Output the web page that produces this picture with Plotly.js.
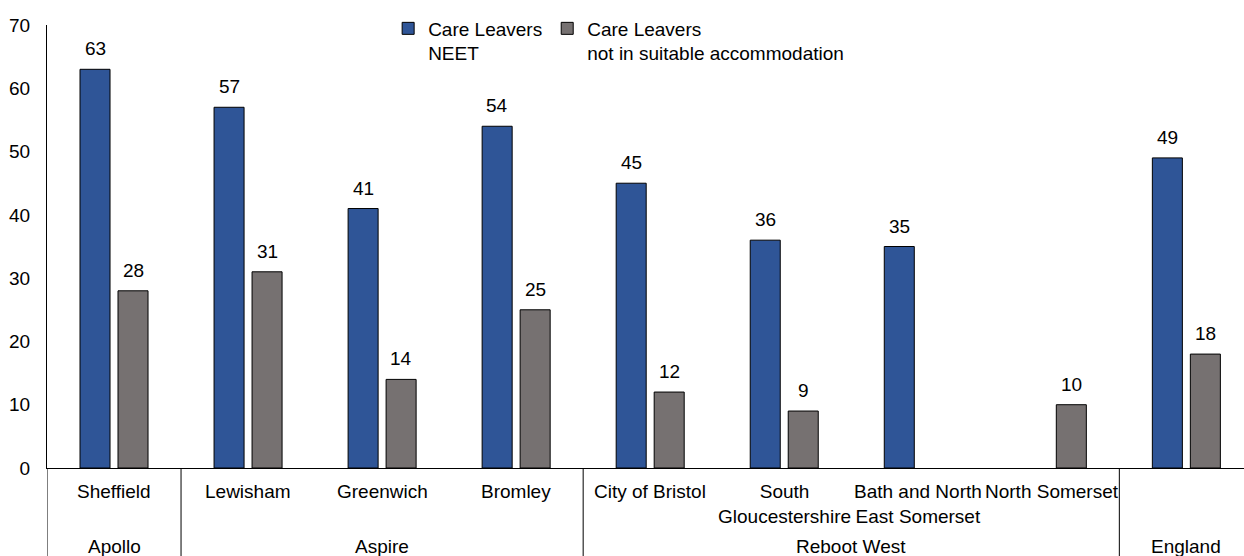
<!DOCTYPE html>
<html>
<head>
<meta charset="utf-8">
<script src="https://cdn.plot.ly/plotly-3.0.1.min.js"></script>
<style>
  html, body { margin: 0; padding: 0; background: #fff; }
  #chart { width: 1244px; height: 556px; }
</style>
</head>
<body>
<div id="chart"></div>
<script>
// Local authorities, grouped by programme
const areas = ["Sheffield", "Lewisham", "Greenwich", "Bromley", "City of Bristol",
  "South<br>Gloucestershire", "Bath and North<br>East Somerset", "North Somerset", "England"];
const groups = ["Apollo", "Aspire", "Aspire", "Aspire", "Reboot West",
  "Reboot West", "Reboot West", "Reboot West", "England"];

// Percentages of care leavers
const neet = [63, 57, 41, 54, 45, 36, 35, null, 49];
const notSuitable = [28, 31, 14, 25, 12, 9, null, 10, 18];

const seriesNames = ["Care Leavers<br>NEET", "Care Leavers<br>not in suitable accommodation"];
const yTicks = [0, 10, 20, 30, 40, 50, 60, 70];

const BLUE = "#2F5597";
const GREY = "#767171";
const FONT = "Liberation Sans, Arial, sans-serif";
const FS = 19;

const idx = areas.map((_, i) => i);

const traces = [
  { type: "bar", name: seriesNames[0], x: idx, y: neet,
    marker: { color: BLUE, line: { color: "#000", width: 1 } }, hoverinfo: "y" },
  { type: "bar", name: seriesNames[1], x: idx, y: notSuitable,
    marker: { color: GREY, line: { color: "#000", width: 1 } }, hoverinfo: "y" }
];

const annotations = [];
const shapes = [];

// Value labels above each bar
[[neet, -19], [notSuitable, 19]].forEach(([vals, dx]) => {
  vals.forEach((v, i) => {
    if (v === null) return;
    annotations.push({ x: i, y: v, xref: "x", yref: "y", text: String(v),
      showarrow: false, xshift: dx, yanchor: "bottom", yshift: 8,
      font: { family: FONT, size: FS, color: "#000" } });
  });
});

// Area labels under the axis (a single-area programme only shows its programme name)
areas.forEach((a, i) => {
  if (a === groups[i]) return;
  annotations.push({ x: i, y: -0.025, xref: "x", yref: "paper", text: a,
    showarrow: false, yanchor: "top", align: "center",
    font: { family: FONT, size: FS, color: "#000" } });
});

// Programme labels and dividers between programmes
const spans = [];
groups.forEach((g, i) => {
  if (!spans.length || spans[spans.length - 1].name !== g) spans.push({ name: g, start: i, end: i });
  else spans[spans.length - 1].end = i;
});
spans.forEach((s) => {
  annotations.push({ x: (s.start + s.end) / 2, y: -0.178, xref: "x", yref: "paper",
    text: s.name, showarrow: false, yanchor: "middle",
    font: { family: FONT, size: FS, color: "#000" } });
  shapes.push({ type: "line", xref: "x", yref: "paper", x0: s.start - 0.5, x1: s.start - 0.5,
    y0: 0, y1: -0.2, line: { color: "#000", width: 1 } });
});

const layout = {
  width: 1244, height: 556,
  margin: { l: 47, r: 0, t: 25, b: 88 },
  paper_bgcolor: "#fff", plot_bgcolor: "#fff",
  font: { family: FONT, size: FS, color: "#000" },
  barmode: "group",
  bargap: 0.433,
  bargroupgap: 0.21,
  showlegend: true,
  legend: {
    orientation: "h", x: 0.285, xanchor: "left", y: 1.035, yanchor: "top",
    font: { family: FONT, size: FS, color: "#000" },
    valign: "top", itemwidth: 30, bgcolor: "rgba(0,0,0,0)",
    traceorder: "normal"
  },
  xaxis: {
    range: [-0.5, 8.43], showticklabels: false, ticks: "",
    showgrid: false, zeroline: false, showline: true, linecolor: "#000", linewidth: 1,
    fixedrange: true
  },
  yaxis: {
    range: [0, 70], tickvals: yTicks, ticktext: yTicks.map(String), ticks: "",
    showgrid: false, zeroline: false, showline: true, linecolor: "#000", linewidth: 1,
    ticklabelstandoff: 12, tickfont: { family: FONT, size: FS, color: "#000" },
    fixedrange: true
  },
  annotations: annotations,
  shapes: shapes
};

Plotly.newPlot("chart", traces, layout, { displayModeBar: false, staticPlot: true });
</script>
</body>
</html>
